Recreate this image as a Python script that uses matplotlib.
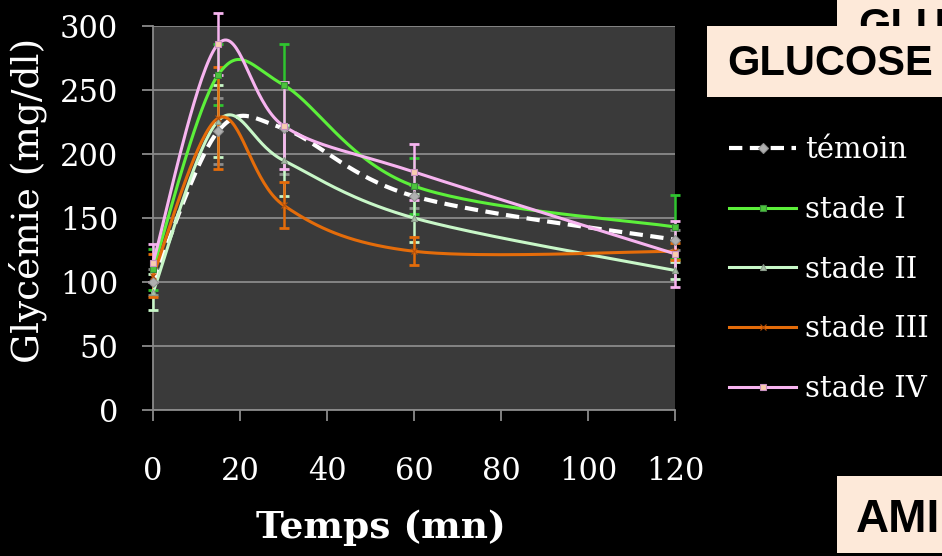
import numpy as np
import matplotlib.pyplot as plt
from matplotlib.patches import Rectangle
from matplotlib.lines import Line2D

# Glycemia over time (mg/dl).
temps = [0, 15, 30, 60, 120]
temoin = [100, 218, 220, 167, 133]
temoin_err = [10, 26, 36, 9, 8]
stade_1 = [110, 262, 254, 175, 143]
stade_1_err = [16, 24, 32, 22, 25]
stade_2 = [92, 226, 195, 150, 109]
stade_2_err = [14, 28, 28, 19, 7]
stade_3 = [105, 228, 160, 124, 124]
stade_3_err = [17, 40, 18, 11, 6.5]
stade_4 = [115, 286, 222, 186, 122]
stade_4_err = [15, 24, 34, 22, 26]

labels = ['témoin', 'stade I', 'stade II', 'stade III', 'stade IV']
x_ticks = [0, 20, 40, 60, 80, 100, 120]
y_ticks = [0, 50, 100, 150, 200, 250, 300]

W, H = 942, 556


def smooth(x, y, n=40):
    """
    Excel-like smoothed line: cubic Bezier between each pair of points,
    control points taken from the neighbours (Catmull-Rom, tension 1/6).
    """
    p = np.column_stack([x, y]).astype(float)
    p = np.vstack([p[0], p, p[-1]])
    out = []
    t = np.linspace(0, 1, n)[:, None]
    for i in range(1, len(p) - 2):
        p0, p1, p2, p3 = p[i - 1], p[i], p[i + 1], p[i + 2]
        c1 = p1 + (p2 - p0) / 6
        c2 = p2 - (p3 - p1) / 6
        out.append((1 - t)**3*p1 + 3*(1 - t)**2*t*c1 + 3*(1 - t)*t**2*c2 + t**3*p2)
    out = np.vstack(out)
    return out[:, 0], out[:, 1]


def px(x, y):
    # pixel position (from top-left) -> figure fraction
    return x / W, 1 - y / H


fig = plt.figure(figsize=(W / 100, H / 100), dpi=100, facecolor='black')
ax = fig.add_axes([153 / W, 1 - 410 / H, 522 / W, 384 / H])
ax.set_facecolor('#3a3a3a')

# series styles: line colour, errorbar colour, marker, marker face, marker edge, linestyle, width
styles = [
    ('white', '#8c8c8c', 'D', '#b0b0b0', '#909090', (0, (3.2, 1.8)), 3.0),
    ('#5cf03a', '#2fc42f', 's', '#4cc43c', '#3a8a3a', '-', 2.2),
    ('#c8f7c8', '#c8f7c8', '^', '#a8c0a8', '#889888', '-', 2.2),
    ('#e46c0a', '#e46c0a', 'x', '#e46c0a', '#b85008', '-', 2.2),
    ('#f7b4f0', '#f7b4f0', 's', '#f8cdb0', '#c890c0', '-', 2.2),
]
series = [temoin, stade_1, stade_2, stade_3, stade_4]
errors = [temoin_err, stade_1_err, stade_2_err, stade_3_err, stade_4_err]

handles = []
for vals, err, lab, st in zip(series, errors, labels, styles):
    col, ecol, mk, mfc, mec, ls, lw = st
    ax.errorbar(temps, vals, yerr=err, fmt='none', ecolor=ecol, elinewidth=1.8,
                capsize=3.8, capthick=2.0, clip_on=False, zorder=3)
    sx, sy = smooth(temps, vals)
    ax.plot(sx, sy, color=col, lw=lw, linestyle=ls, clip_on=False, zorder=4)
    ax.plot(temps, vals, linestyle='none', marker=mk, markersize=5, markerfacecolor=mfc,
            markeredgecolor=mec, markeredgewidth=0.8, clip_on=False, zorder=5)
    handles.append(Line2D([], [], color=col, lw=lw, linestyle=ls, marker=mk, markersize=5,
                          markerfacecolor=mfc, markeredgecolor=mec, markeredgewidth=0.8))

ax.set_xlim(0, 120)
ax.set_ylim(0, 300)
ax.set_xticks(x_ticks)
ax.set_yticks(y_ticks)
ax.grid(axis='y', color='#8a8a8a', lw=1.3, zorder=1)
ax.set_axisbelow(True)
for s in ['top', 'right']:
    ax.spines[s].set_visible(False)
for s in ['left', 'bottom']:
    ax.spines[s].set_color('#8a8a8a')
    ax.spines[s].set_linewidth(1.3)
ax.tick_params(axis='both', direction='out', length=8, width=1.3, color='#8a8a8a',
               labelcolor='white')
ax.tick_params(axis='x', pad=25)
ax.tick_params(axis='y', pad=17)
for lab in ax.get_xticklabels() + ax.get_yticklabels():
    lab.set_family('DejaVu Serif')
    lab.set_fontsize(22)

# axis titles
fig.text(*px(28, 200), 'Glycémie (mg/dl)', rotation=90, ha='center', va='center',
         color='white', family='DejaVu Serif', fontsize=27)
fig.text(*px(381, 528), 'Temps (mn)', ha='center', va='center', color='white',
         family='DejaVu Serif', fontweight='bold', fontsize=27)

# legend
leg = fig.legend(handles, labels, loc='upper left', bbox_to_anchor=px(729, 136),
                 frameon=False, handlelength=2.3, handletextpad=0.3,
                 labelspacing=1.09, borderpad=0, borderaxespad=0,
                 prop={'family': 'DejaVu Serif', 'size': 21})
for txt in leg.get_texts():
    txt.set_color('white')

# slide boxes on the right
peach = '#fde9d9'
fig.add_artist(Rectangle(px(837, 30), 105 / W, 30 / H, transform=fig.transFigure,
                         facecolor=peach, edgecolor='none', zorder=1))
fig.text(*px(858, 38), 'GLU', ha='left', va='baseline', color='black',
         family='Liberation Sans', fontweight='bold', fontsize=30, zorder=2)
fig.add_artist(Rectangle(px(707, 97), 235 / W, 71 / H, transform=fig.transFigure,
                         facecolor=peach, edgecolor='none', zorder=3))
fig.text(*px(727, 75), 'GLUCOSE', ha='left', va='baseline', color='black',
         family='Liberation Sans', fontweight='bold', fontsize=30, zorder=4)
fig.add_artist(Rectangle(px(837, 553), 105 / W, 77 / H, transform=fig.transFigure,
                         facecolor=peach, edgecolor='none', zorder=1))
fig.text(*px(856, 532), 'AMI', ha='left', va='baseline', color='black',
         family='Liberation Sans', fontweight='bold', fontsize=33, zorder=2)

plt.savefig('out.png', dpi=100, facecolor='black')
plt.close()
